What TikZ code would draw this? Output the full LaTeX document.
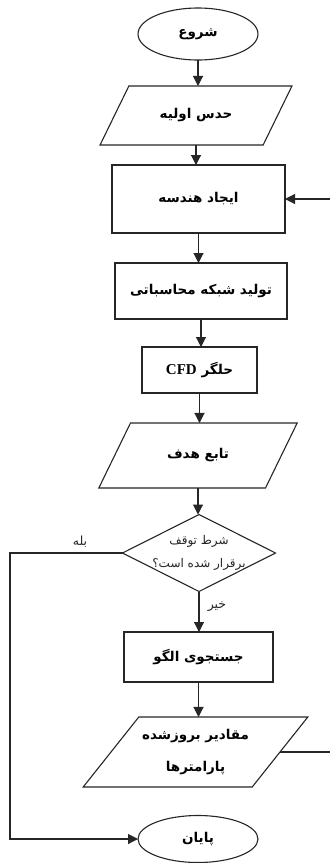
\documentclass[tikz,border=0pt]{standalone}
\usepackage{fontspec}
\TeXXeTstate=1
\newfontfamily\fa[Script=Arabic]{DejaVu Sans}
\newfontfamily\cfdfont{Liberation Serif}
\usetikzlibrary{shapes.geometric,arrows.meta}
\begin{document}
\begin{tikzpicture}[x=1pt,y=-1pt,
  every node/.style={inner sep=0pt,outer sep=0pt},
  shp/.style={draw=black!85,line width=1.1pt,fill=white,font=\fa\bfseries\fontsize{13.5}{15}\selectfont,align=center},
  terminal/.style={shp,ellipse},
  procbox/.style={shp,rectangle},
  iobox/.style={shp,trapezium,trapezium stretches=true,trapezium left angle=#1,trapezium right angle=180-#1},
  decision/.style={shp,diamond},
  dectext/.style={font=\fa\fontsize{12}{14}\selectfont,align=center,text=black!85},
  flow/.style={draw=black!85,line width=1.1pt,-{Triangle[length=10pt,width=10pt]}},
  plain/.style={draw=black!85,line width=1.1pt},
  lbl/.style={font=\fa\fontsize{12.5}{14}\selectfont,text=black!85}]
\useasboundingbox (0,0) rectangle (330,863);

\node[terminal,minimum width=120pt,minimum height=52pt] (start) at (198,34) {\beginR شروع\endR};
\node[iobox=41,minimum width=192pt,minimum height=59pt] (guess) at (196,115.5) {\beginR حدس اولیه\endR};
\node[procbox,minimum width=173pt,minimum height=68pt] (geom) at (198.5,199) {\beginR ایجاد هندسه\endR};
\node[procbox,minimum width=172pt,minimum height=56pt] (mesh) at (201,291) {\beginR تولید شبکه محاسباتی\endR};
\node[procbox,minimum width=115pt,minimum height=46pt] (cfd) at (199.5,370) {\beginR حلگر \beginL{\cfdfont\bfseries\fontsize{15}{16}\selectfont CFD}\endL\endR};
\node[iobox=43,minimum width=200pt,minimum height=65pt] (obj) at (198,455.5) {\beginR تابع هدف\endR};
\node[decision,minimum width=153pt,minimum height=77pt] (cond) at (199,553) {};
\node[dectext] (condtext) at (cond.center) {\beginR شرط توقف\endR\\[9pt]\beginR برقرار شده است؟\endR};
\node[procbox,minimum width=149pt,minimum height=50pt] (search) at (198.5,657) {\beginR جستجوی الگو\endR};
\node[iobox=41,minimum width=225pt,minimum height=70pt] (update) at (195.5,752) {\beginR مقادیر بروزشده\endR\\[17pt]\beginR پارامترها\endR};
\node[terminal,minimum width=120pt,minimum height=47pt] (stop) at (198,839) {\beginR پایان\endR};

\coordinate (rin) at (330,199);
\coordinate (lft) at (10,553);

\draw[flow] (start.south) -- (start.south |- guess.north);
\draw[flow] (guess.south) -- (guess.south |- geom.north);
\draw[flow] (geom.south) -- (geom.south |- mesh.north);
\draw[flow] (mesh.south) -- (mesh.south |- cfd.north);
\draw[flow] (cfd.south) -- (cfd.south |- obj.north);
\draw[flow] (obj.south) -- (obj.south |- cond.north);
\draw[flow] (cond.south) -- (cond.south |- search.north);
\draw[flow] (search.south) -- (search.south |- update.north);
\draw[flow] (rin) -- (geom.east);
\coordinate (rout) at (330,0);
\draw[plain] (update.east) -- (update.east -| rout);
\draw[flow] (cond.west) -- (lft) |- (stop.west);

\node[lbl] (yes) at (80,542) {\beginR بله\endR};
\node[lbl] (no) at (217,607) {\beginR خیر\endR};
\end{tikzpicture}
\end{document}
